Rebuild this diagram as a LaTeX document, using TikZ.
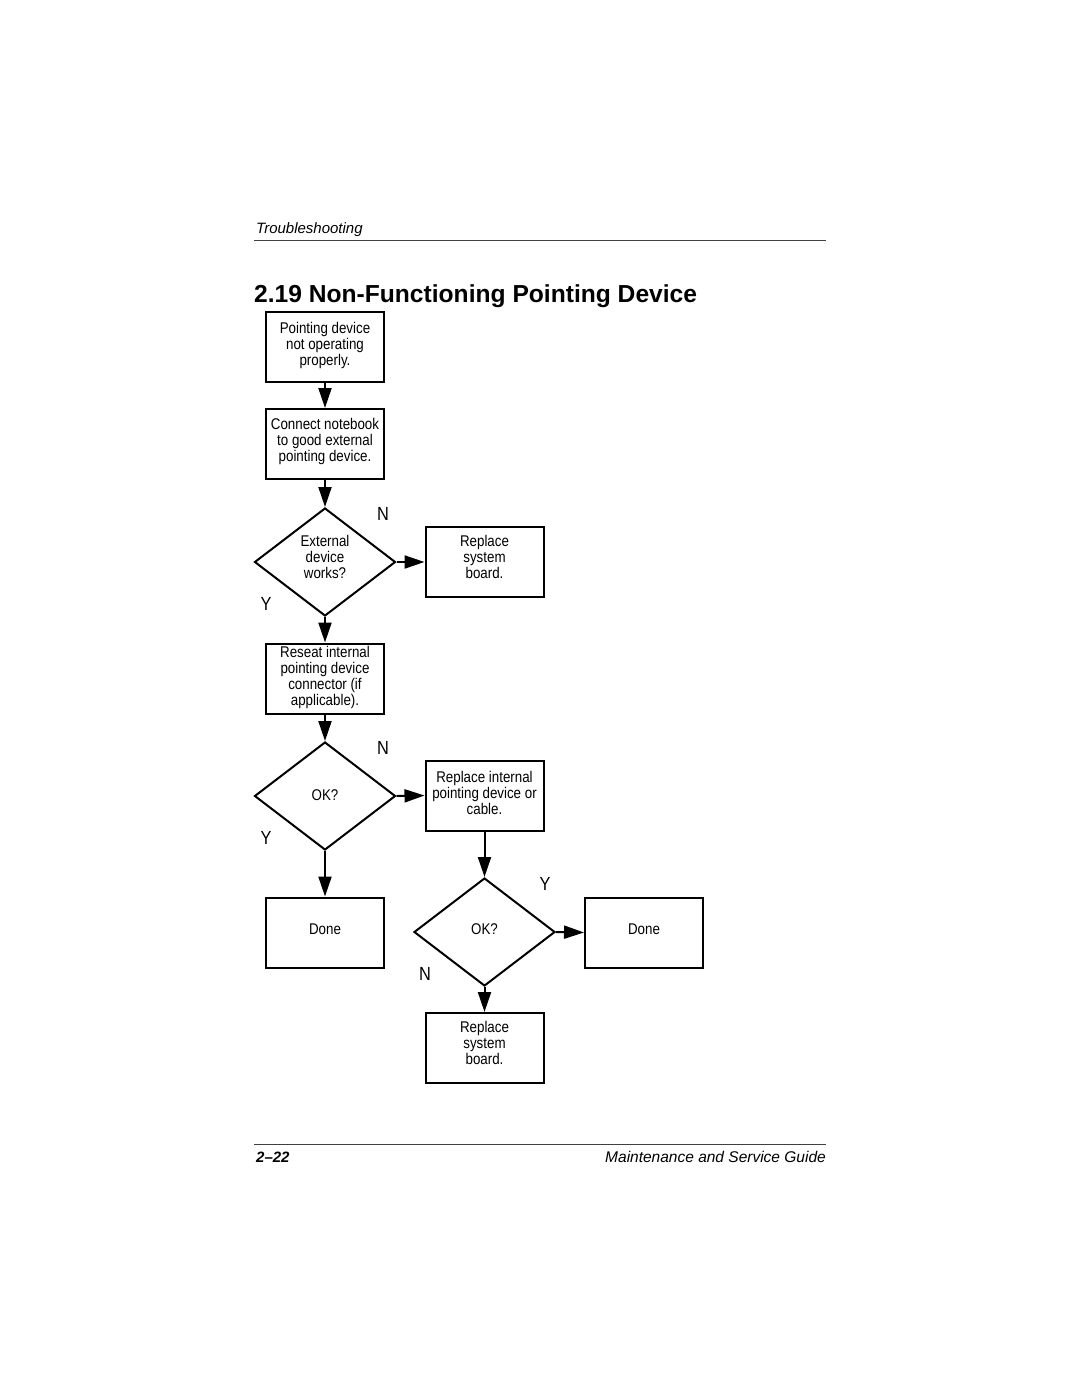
\documentclass[tikz,border=0pt]{standalone}
\usepackage{fontspec}
\setmainfont{Liberation Sans}
\newfontfamily\narrowfont{Liberation Sans}[FakeStretch=0.86]
\usetikzlibrary{shapes.geometric,arrows.meta}
\begin{document}
\begin{tikzpicture}[x=1pt,y=-1pt,
  box/.style={draw,line width=2pt,minimum width=118pt,minimum height=70pt,inner sep=0pt},
  dia/.style={draw,diamond,line width=2pt,minimum width=141pt,minimum height=108pt,inner sep=0pt},
  btxt/.style={align=center,font=\narrowfont\fontsize{15.5}{16}\selectfont,inner sep=0pt,yshift=3pt},
  yn/.style={font=\narrowfont\fontsize{19}{19}\selectfont,inner sep=0pt},
  arr/.style={line width=2pt,-{Triangle[length=20pt,width=13pt]}}]
\useasboundingbox[fill=white] (0,0) rectangle (1080,1397);
% header
\node[anchor=base west,inner sep=0pt,font=\itshape\fontsize{15}{15}\selectfont] (hdr) at (256,233) {Troubleshooting};
\draw[line width=1pt,black!75] (254,240) -- (826,240);
\node[anchor=base west,inner sep=0pt,font=\bfseries\fontsize{24.6}{25}\selectfont] (title) at (254,302) {2.19 Non-Functioning Pointing Device};
% nodes
\node[box,label={[btxt,yshift=-2pt]center:{Pointing device\\not operating\\properly.}}] (b1) at (325,346.5) {};
\node[box,label={[btxt]center:{Connect notebook\\to good external\\pointing device.}}] (b2) at (325,444) {};
\node[dia,label={[btxt,yshift=2pt]center:{External\\device\\works?}}] (d1) at (325,562) {};
\node[box,label={[btxt,yshift=2pt]center:{Replace\\system\\board.}}] (b3) at (484.5,562) {};
\node[box,label={[btxt,yshift=-2pt]center:{Reseat internal\\pointing device\\connector (if\\applicable).}}] (b4) at (325,678.5) {};
\node[dia,label={[btxt,yshift=-2pt]center:{OK?}}] (d2) at (325,796) {};
\node[box,label={[btxt]center:{Replace internal\\pointing device or\\cable.}}] (b5) at (484.5,795.5) {};
\node[box,label={[btxt]center:{Done}}] (done1) at (325,932.5) {};
\node[dia,label={[btxt]center:{OK?}}] (d3) at (484.5,932) {};
\node[box,label={[btxt]center:{Done}}] (done2) at (644,932.5) {};
\node[box,label={[btxt,yshift=2pt]center:{Replace\\system\\board.}}] (b6) at (484.5,1048) {};
% Y/N labels
\node[yn] (n1) at (383,514) {N};
\node[yn] (y1) at (266,604) {Y};
\node[yn] (n2) at (383,748) {N};
\node[yn] (y2) at (266,838) {Y};
\node[yn] (y3) at (545,884) {Y};
\node[yn] (n3) at (425,974) {N};
% connectors
\draw[arr] (b1.south) -- (b2.north);
\draw[arr] (b2.south) -- (d1.north);
\draw[arr] (d1.east) -- (b3.west);
\draw[arr] (d1.south) -- (b4.north);
\draw[arr] (b4.south) -- (d2.north);
\draw[arr] (d2.east) -- (b5.west);
\draw[arr] (d2.south) -- (done1.north);
\draw[arr] (b5.south) -- (d3.north);
\draw[arr] (d3.east) -- (done2.west);
\draw[arr] (d3.south) -- (b6.north);
% footer
\draw[line width=1pt,black!75] (254,1144) -- (826,1144);
\node[anchor=base west,inner sep=0pt,font=\bfseries\itshape\fontsize{15}{15}\selectfont] (pg) at (256,1162) {2–22};
\node[anchor=base east,inner sep=0pt,font=\itshape\fontsize{15.5}{15.5}\selectfont] (guide) at (826,1162) {Maintenance and Service Guide};
\end{tikzpicture}
\end{document}
